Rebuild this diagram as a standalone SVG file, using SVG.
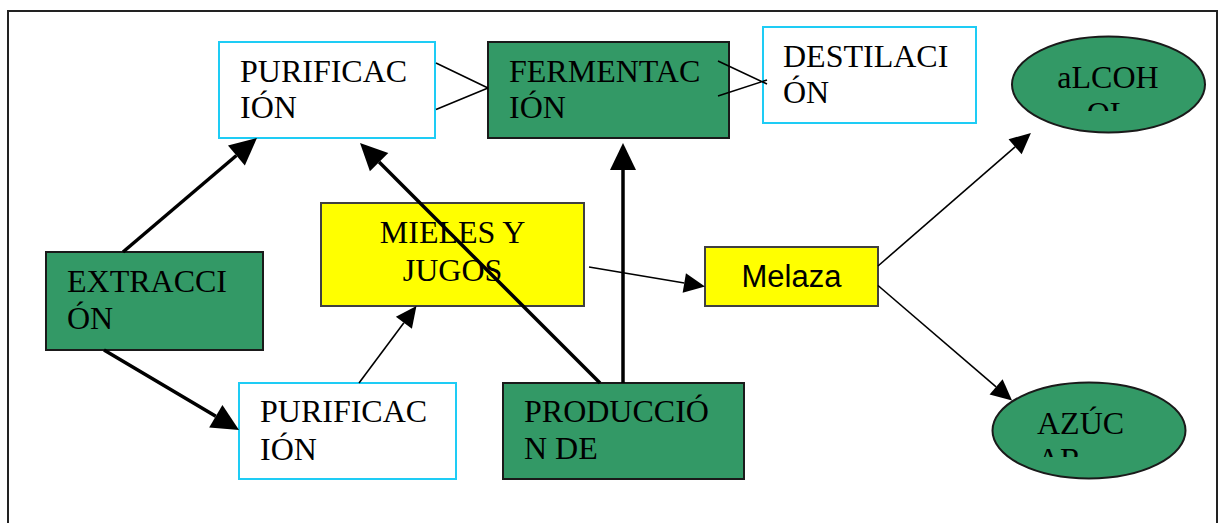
<svg xmlns="http://www.w3.org/2000/svg" width="1218" height="523" viewBox="0 0 1218 523">
<style>
.t{font-family:"Liberation Serif","Times New Roman",serif;font-size:32px;fill:#000}
.s{font-family:"Liberation Sans",Arial,sans-serif;font-size:31px;fill:#000}
.c{text-anchor:middle}
.green{fill:#339966;stroke:#1a1a1a;stroke-width:2}
.yellow{fill:#FFFF00;stroke:#404040;stroke-width:2}
.white{fill:#FFFFFF;stroke:#1ECCF5;stroke-width:2}
.thick{stroke:#000;stroke-width:3.5;fill:none}
.thin{stroke:#000;stroke-width:1.6;fill:none}
</style>
<defs>
<marker id="ah" markerUnits="userSpaceOnUse" viewBox="0 -13 27 26" refX="0" refY="0" markerWidth="27" markerHeight="26" orient="auto" overflow="visible">
<path d="M0,-13 L27,0 L0,13 z" fill="#000"/>
</marker>
<marker id="ahs" markerUnits="userSpaceOnUse" viewBox="0 -10 21 20" refX="0" refY="0" markerWidth="21" markerHeight="20" orient="auto" overflow="visible">
<path d="M0,-10 L21,0 L0,10 z" fill="#000"/>
</marker>
<clipPath id="clipAlc"><rect x="1000" y="30" width="220" height="81"/></clipPath>
<clipPath id="clipAzu"><rect x="980" y="370" width="220" height="87"/></clipPath>
</defs>
<rect x="8" y="11" width="1209" height="530" fill="#fff" stroke="#222" stroke-width="2"/>
<g id="purificacion-top">
<rect class="white" x="219" y="42" width="216" height="96"/>
<text class="t" x="240" y="82">PURIFICAC</text>
<text class="t" x="240" y="118">IÓN</text>
</g>
<g id="fermentacion">
<rect class="green" x="488" y="42" width="241" height="96"/>
<text class="t" x="509" y="82">FERMENTAC</text>
<text class="t" x="509" y="118">IÓN</text>
</g>
<g id="destilacion">
<rect class="white" x="763" y="27" width="213" height="96"/>
<text class="t" x="783" y="67">DESTILACI</text>
<text class="t" x="783" y="103">ÓN</text>
</g>
<g id="alcohol">
<ellipse class="green" cx="1108.5" cy="84.5" rx="96.5" ry="48"/>
<g clip-path="url(#clipAlc)">
<text class="t c" x="1108" y="88">aLCOH</text>
<text class="t c" x="1108" y="124">OL</text>
</g>
</g>
<g id="extraccion">
<rect class="green" x="46" y="252" width="217" height="98"/>
<text class="t" x="67" y="292">EXTRACCI</text>
<text class="t" x="67" y="329">ÓN</text>
</g>
<g id="mieles">
<rect class="yellow" x="321" y="203" width="263" height="103"/>
<text class="t c" x="452.5" y="243">MIELES Y</text>
<text class="t c" x="452.5" y="281">JUGOS</text>
</g>
<g id="melaza">
<rect class="yellow" x="705" y="247" width="173" height="59"/>
<text class="s c" x="791.5" y="287">Melaza</text>
</g>
<g id="purificacion-bottom">
<rect class="white" x="239" y="383" width="217" height="96"/>
<text class="t" x="260" y="422">PURIFICAC</text>
<text class="t" x="260" y="460">IÓN</text>
</g>
<g id="produccion">
<rect class="green" x="503" y="383" width="241" height="96"/>
<text class="t" x="524" y="422">PRODUCCIÓ</text>
<text class="t" x="524" y="459">N DE</text>
</g>
<g id="azucar">
<ellipse class="green" cx="1089" cy="430.5" rx="96.5" ry="48"/>
<g clip-path="url(#clipAzu)">
<text class="t" x="1037" y="434">AZÚC</text>
<text class="t" x="1037" y="470">AR</text>
</g>
</g>
<g id="connectors">
<path class="thick" d="M123,252 L236.4,155.5" marker-end="url(#ah)"/>
<path class="thick" d="M104,350 L215.8,416.2" marker-end="url(#ah)"/>
<path class="thin" d="M359,383 L403.9,322.8" marker-end="url(#ahs)"/>
<path class="thick" d="M600,383 L379.1,162.1" marker-end="url(#ah)"/>
<path class="thick" d="M623,383 L623,170" marker-end="url(#ah)"/>
<path class="thin" d="M589,267 L684.3,283" marker-end="url(#ahs)"/>
<path class="thin" d="M878,266 L1015.1,146.8" marker-end="url(#ahs)"/>
<path class="thin" d="M878,285.5 L996.1,386.8" marker-end="url(#ahs)"/>
<path class="thin" d="M436,63 L488,88 M436,109.5 L488,88"/>
<path class="thin" d="M718,61 L767,84 M718,96 L767,80"/>
</g>
</svg>
